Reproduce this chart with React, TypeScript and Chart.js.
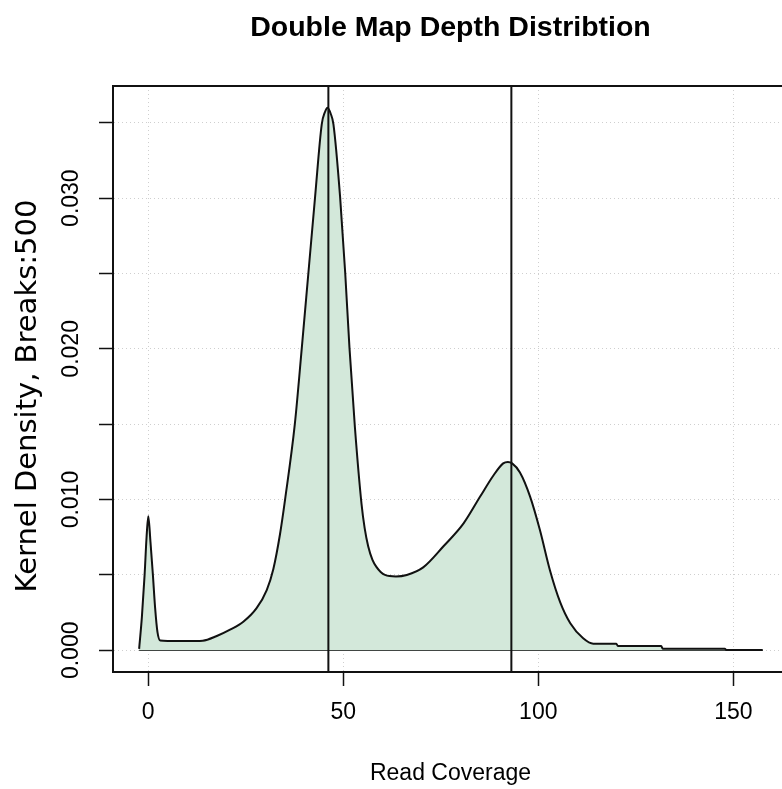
import React, { useEffect, useRef } from "react";
import { Chart, registerables } from "chart.js";

Chart.register(...registerables);

const chartTitle = "Double Map Depth Distribtion";
const xAxisTitle = "Read Coverage";
const yAxisTitle = "Kernel Density, Breaks:500";

// Kernel density estimate of read coverage
const coverage = [
  -2.3, -1.6, -0.9, -0.4, 0.05, 0.6, 1.2, 1.8, 2.4, 3.1, 5, 10, 14, 17.6, 21, 24.4, 27.8, 30.4, 32.1,
  33.8, 35.1, 37.6, 39.4, 41.1, 42.8, 44.5, 45.3, 46.0, 46.8, 47.5, 49.2, 50.5, 51.6, 53.0, 54.7, 55.5,
  56.4, 57.5, 58.6, 59.6, 60.7, 63.5, 66.3, 70.5, 75.7, 80.8, 85.1, 88.5, 91.0, 92.2, 93.3, 95.3, 97.9,
  100.4, 103.0, 105.6, 108.2, 111.5, 114.1, 120.0, 120.4, 131.5, 131.9, 147.8, 148.2, 157.5,
];
const density = [
  0.0001, 0.0022, 0.005, 0.0075, 0.0089, 0.0072, 0.0051, 0.0028, 0.0012, 0.00065, 0.00062, 0.00062,
  0.00064, 0.00095, 0.00137, 0.0019, 0.0028, 0.004, 0.0054, 0.0077, 0.01, 0.015, 0.0201, 0.0251, 0.0301,
  0.0349, 0.0357, 0.036, 0.0356, 0.0349, 0.0301, 0.0251, 0.0201, 0.0148, 0.0097, 0.0081, 0.0069, 0.006,
  0.0055, 0.0052, 0.005, 0.0049, 0.005, 0.0055, 0.0069, 0.0084, 0.0102, 0.0116, 0.0124, 0.0125, 0.0124,
  0.0118, 0.0102, 0.008, 0.0053, 0.0032, 0.0018, 0.0008, 0.00044, 0.00044, 0.00029, 0.00029, 0.00011,
  0.00011, 0.00002, 0.00002,
];

// Reference lines (vertical)
const markerLines = [46.2, 93.1];

const xTicks = [0, 50, 100, 150];
const yTicks = [0, 0.005, 0.01, 0.015, 0.02, 0.025, 0.03, 0.035];
const yTickLabels = ["0.000", "", "0.010", "", "0.020", "", "0.030", ""];

const X_MIN = -9;
const X_MAX = 164;
const Y_MIN = -0.00144;
const Y_MAX = 0.03744;

const FILL = "#d3e8da";
const INK = "#111111";

const frame = {
  id: "frame",
  afterDraw(chart: any) {
    const { ctx, chartArea } = chart;
    ctx.save();
    ctx.strokeStyle = INK;
    ctx.lineWidth = 2;
    ctx.beginPath();
    ctx.moveTo(chartArea.left, chartArea.top);
    ctx.lineTo(chartArea.right, chartArea.top);
    ctx.lineTo(chartArea.right, chartArea.bottom);
    ctx.stroke();

    // y-axis title
    ctx.translate(28, 396);
    ctx.rotate(-Math.PI / 2);
    ctx.fillStyle = "#000";
    ctx.font = '29px "DejaVu Sans"';
    ctx.textAlign = "center";
    ctx.textBaseline = "middle";
    ctx.fillText(yAxisTitle, 0, 0);
    ctx.restore();
  },
};

export default function App() {
  const ref = useRef<HTMLCanvasElement | null>(null);

  useEffect(() => {
    if (!ref.current) return;
    const curve = coverage.map((x, i) => ({ x, y: density[i] }));
    const baseline = [
      { x: coverage[0], y: 0 },
      { x: coverage[coverage.length - 1], y: 0 },
    ];
    const vlines = markerLines.map((v) => ({
      type: "line" as const,
      data: [
        { x: v, y: Y_MIN },
        { x: v, y: Y_MAX },
      ],
      borderColor: INK,
      borderWidth: 2,
      pointRadius: 0,
      fill: false,
    }));

    const chart = new Chart(ref.current, {
      type: "scatter",
      data: {
        datasets: [
          ...vlines,
          {
            type: "line",
            data: curve,
            borderColor: INK,
            borderWidth: 2,
            backgroundColor: FILL,
            fill: "origin",
            pointRadius: 0,
            cubicInterpolationMode: "monotone",
          },
          {
            type: "line",
            data: baseline,
            borderColor: INK,
            borderWidth: 1.5,
            pointRadius: 0,
            fill: false,
          },
        ] as any,
      },
      options: {
        responsive: false,
        animation: false,
        layout: { padding: { left: 0, right: 12, top: 0, bottom: 0 } },
        plugins: {
          legend: { display: false },
          tooltip: { enabled: false },
          title: {
            display: true,
            text: chartTitle,
            fullSize: false,
            color: "#000",
            font: { family: '"Liberation Sans", Arial, sans-serif', size: 28.5, weight: "bold" },
            padding: { top: 11, bottom: 40.8 },
          },
        },
        scales: {
          x: {
            type: "linear",
            min: X_MIN,
            max: X_MAX,
            z: 1,
            afterBuildTicks: (s: any) => {
              s.ticks = xTicks.map((value) => ({ value }));
            },
            afterFit: (s: any) => {
              s.height = 117;
            },
            grid: {
              color: "#cfcfcf",
              lineWidth: 1,
              tickLength: 14,
              tickColor: INK,
              tickWidth: 1.5,
            },
            border: { display: true, color: INK, width: 2, dash: [1, 3] },
            ticks: {
              autoSkip: false,
              maxRotation: 0,
              padding: 13,
              color: "#000",
              font: { family: '"Liberation Sans", Arial, sans-serif', size: 23 },
              callback: (v: any) => String(v),
            },
            title: {
              display: true,
              text: xAxisTitle,
              color: "#000",
              font: { family: '"Liberation Sans", Arial, sans-serif', size: 23 },
              padding: { top: 0, bottom: 2 },
            },
          },
          y: {
            type: "linear",
            min: Y_MIN,
            max: Y_MAX,
            z: 1,
            afterBuildTicks: (s: any) => {
              s.ticks = yTicks.map((value) => ({ value }));
            },
            afterFit: (s: any) => {
              s.width = 113;
            },
            grid: {
              color: "#cfcfcf",
              lineWidth: 1,
              tickLength: 14,
              tickColor: INK,
              tickWidth: 1.5,
            },
            border: { display: true, color: INK, width: 2, dash: [1, 3] },
            ticks: {
              autoSkip: false,
              minRotation: 90,
              maxRotation: 90,
              crossAlign: "center",
              padding: -1,
              color: "#000",
              font: { family: '"Liberation Sans", Arial, sans-serif', size: 23 },
              callback: (_v: any, i: number) => yTickLabels[i],
            },
          },
        },
      },
      plugins: [frame],
    } as any);

    return () => chart.destroy();
  }, []);

  return (
    <div
      style={{
        position: "fixed",
        left: 0,
        top: 0,
        width: 782,
        height: 789,
        overflow: "hidden",
        background: "#fff",
      }}
    >
      <canvas ref={ref} width={800} height={789} style={{ display: "block" }} />
    </div>
  );
}
